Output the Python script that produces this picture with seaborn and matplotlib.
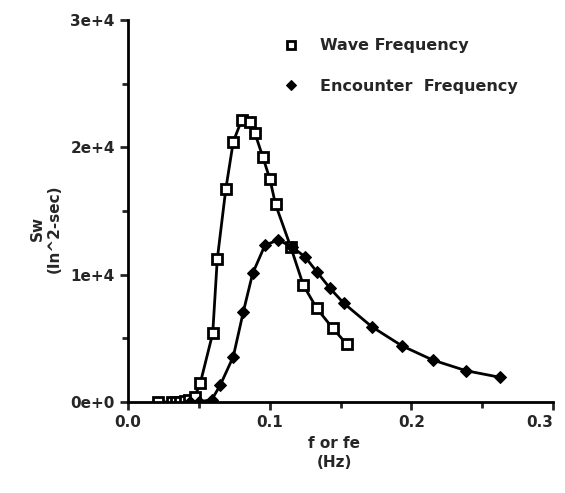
import seaborn as sns
import matplotlib.pyplot as plt
import pandas as pd
from matplotlib.ticker import FixedLocator, MultipleLocator

# Wave frequency spectrum (open squares)
wave_f = [0.021, 0.031, 0.034, 0.037, 0.040, 0.043, 0.047, 0.051, 0.0598, 0.063,
          0.069, 0.0743, 0.0802, 0.0861, 0.0896, 0.0951, 0.1002, 0.1041, 0.1148,
          0.1237, 0.1332, 0.1445, 0.1543]
wave_sw = [0, 0, 0, 0, 50, 150, 400, 1470, 5400, 11200,
           16710, 20450, 22150, 22020, 21110, 19270, 17490, 15530, 12200,
           9190, 7360, 5790, 4560]

# Encounter frequency spectrum (filled diamonds)
enc_f = [0.044, 0.050, 0.059, 0.065, 0.0743, 0.0814, 0.088, 0.0967, 0.1061,
         0.1155, 0.1249, 0.1332, 0.1426, 0.1524, 0.172, 0.1932, 0.215, 0.2385, 0.2625]
enc_sw = [0, 30, 160, 1300, 3560, 7090, 10110, 12330, 12730,
          12200, 11410, 10240, 8930, 7750, 5920, 4420, 3300, 2460, 1940]

yticks = [0, 1e4, 2e4, 3e4]
ytick_labels = ["0e+0", "1e+4", "2e+4", "3e+4"]
xticks = [0.0, 0.1, 0.2, 0.3]
xtick_labels = ["0.0", "0.1", "0.2", "0.3"]

wave = pd.DataFrame({"f": wave_f, "Sw": wave_sw})
enc = pd.DataFrame({"f": enc_f, "Sw": enc_sw})

sns.set_style("ticks")
plt.rcParams["font.family"] = ["DejaVu Sans"]

fig = plt.figure(figsize=(5.65, 4.93), dpi=100)
ax = fig.add_axes([0.2265, 0.1846, 0.979 - 0.2265, 0.959 - 0.1846])

sns.lineplot(data=wave, x="f", y="Sw", ax=ax, color="black", linewidth=2,
             marker="s", markersize=6.5, markerfacecolor="white",
             markeredgecolor="black", markeredgewidth=2,
             label="Wave Frequency", sort=False)
sns.lineplot(data=enc, x="f", y="Sw", ax=ax, color="black", linewidth=2,
             marker="D", markersize=6, markerfacecolor="black",
             markeredgecolor="black", label="Encounter  Frequency", sort=False)

ax.set_xlim(0, 0.3)
ax.set_ylim(0, 3e4)
ax.xaxis.set_major_locator(FixedLocator(xticks))
ax.set_xticklabels(xtick_labels)
ax.yaxis.set_major_locator(FixedLocator(yticks))
ax.set_yticklabels(ytick_labels)
ax.xaxis.set_minor_locator(MultipleLocator(0.05))
ax.yaxis.set_minor_locator(MultipleLocator(5000))
ax.tick_params(which="major", length=6, width=2, labelsize=11, direction="out")
ax.tick_params(which="minor", length=4, width=2, direction="out")
for lbl in ax.get_xticklabels() + ax.get_yticklabels():
    lbl.set_fontweight("bold")
# last x label sits at the figure edge; nudge it so it stays inside
ax.get_xticklabels()[-1].set_horizontalalignment("right")
ax.get_xticklabels()[-1].set_x(0.3)

for side in ["top", "right"]:
    ax.spines[side].set_visible(False)
for side in ["left", "bottom"]:
    ax.spines[side].set_linewidth(2)
    ax.spines[side].set_color("black")

ax.set_xlabel("f or fe\n(Hz)", fontsize=11, fontweight="bold", linespacing=1.4)
ax.xaxis.set_label_coords(0.485, -0.088, transform=ax.transAxes)
ax.xaxis.label.set_va("top")
ax.set_ylabel("Sw\n(In^2-sec)", fontsize=11, fontweight="bold", linespacing=1.2)
ax.yaxis.set_label_coords(-0.155, 0.455)

leg = ax.legend(loc="upper left", bbox_to_anchor=(0.35, 0.99), frameon=False,
                handlelength=0, handletextpad=1.8, labelspacing=1.6, fontsize=11.5,
                markerscale=0.8)
for t in leg.get_texts():
    t.set_fontweight("bold")

fig.savefig("out.png", dpi=100)
